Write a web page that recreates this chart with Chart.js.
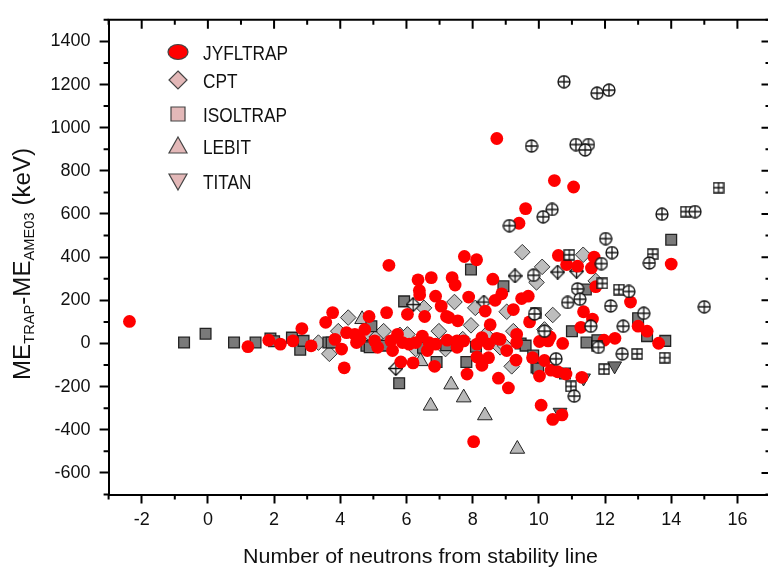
<!DOCTYPE html>
<html>
<head>
<meta charset="utf-8">
<script src="https://cdn.jsdelivr.net/npm/chart.js@4.4.0/dist/chart.umd.min.js"></script>
<style>
  html, body { margin: 0; padding: 0; background: #fff; overflow: hidden; }
  #wrap { width: 768px; height: 570px; overflow: hidden; }
</style>
</head>
<body>
<div id="wrap"><canvas id="c" width="780" height="570"></canvas></div>
<script>
// ME(trap) - ME(AME03) against number of neutrons from the stability line
// every point is [neutrons, keV]

const xTicks = [-2, 0, 2, 4, 6, 8, 10, 12, 14, 16];
const yTicks = [-600, -400, -200, 0, 200, 400, 600, 800, 1000, 1200, 1400];
const legendNames = ['JYFLTRAP', 'CPT', 'ISOLTRAP', 'LEBIT', 'TITAN'];

const jyfltrap = [
  [-2.37, 102], [1.21, -15], [1.84, 15], [2.19, -3], [2.57, 12], [2.84, 69], [3.12, -11], [3.56, 98],
  [3.77, 143], [3.84, 19], [4.04, -26], [4.12, -113], [4.19, 50], [4.44, 42], [4.49, 4], [4.59, 19],
  [4.74, 65], [4.87, 125], [5.04, 12], [5.13, -18], [5.4, 143], [5.47, 362], [5.53, 12], [5.58, -33],
  [5.73, 42], [5.83, -86], [5.88, 4], [6.03, 135], [6.08, -3], [6.2, -90], [6.28, 4], [6.35, 295],
  [6.39, 245], [6.4, 226], [6.48, 34], [6.55, 125], [6.63, -33], [6.68, 4], [6.75, 305], [6.85, -106],
  [6.88, 219], [6.88, -3], [7.05, 173], [7.21, 125], [7.23, 15], [7.28, 120], [7.38, 305], [7.47, 271],
  [7.53, 12], [7.53, -18], [7.55, 105], [7.73, 12], [7.75, 403], [7.83, -142], [7.88, 215], [8.03, -455],
  [8.12, 388], [8.13, -3], [8.13, -63], [8.28, 27], [8.28, -101], [8.38, 150], [8.48, -3], [8.53, 87],
  [8.48, -66], [8.61, 298], [8.68, 200], [8.73, 24], [8.73, 950], [8.78, -161], [8.83, 19], [8.88, 230],
  [9.03, -33], [9.08, -206], [9.23, 157], [9.31, -77], [9.33, 42], [9.33, 4], [9.4, 557], [9.48, 208],
  [9.6, 625], [9.68, 219], [9.72, 100], [9.81, -66], [10.02, 9], [10.02, -151], [10.07, -286], [10.17, -79],
  [10.28, 12], [10.34, 30], [10.37, -124], [10.42, -352], [10.47, 755], [10.57, -131], [10.59, 408], [10.7, -331],
  [10.72, 0], [10.82, -142], [10.84, 366], [11.05, 725], [11.17, 358], [11.27, 75], [11.3, -157], [11.35, 147],
  [11.59, 350], [11.62, 113], [11.67, 400], [11.72, 263], [11.97, 15], [12.3, 24], [12.77, 192], [13.0, 80],
  [13.27, 57], [13.62, 1], [14.0, 368]
];

// open circles with a cross
const jyfltrapOpen = [
  [10.76, 1213], [11.76, 1160], [12.12, 1174], [9.78, 915], [11.12, 922], [11.5, 922], [11.4, 897],
  [10.4, 621], [10.13, 587], [9.11, 546], [13.72, 599], [14.72, 611], [12.02, 486], [12.21, 421],
  [13.34, 373], [9.84, 316], [11.89, 370], [11.17, 253], [11.24, 205], [10.87, 190], [12.17, 174],
  [12.72, 241], [13.17, 140], [12.55, 80], [11.57, 80], [10.52, -71], [12.52, -48], [11.07, -244],
  [15.0, 170], [9.87, 137], [10.17, 57], [11.8, -18]
];

const cpt = [
  [3.34, 4], [3.67, -48], [3.94, 57], [4.24, 120], [4.84, 51], [5.1, 30], [5.31, 57], [5.8, 40],
  [6.03, 42], [6.28, -26], [6.53, 165], [6.98, 57], [7.18, -26], [7.45, 192], [7.53, -3], [7.7, 20],
  [7.95, 84], [8.08, 165], [8.4, 40], [8.83, -18], [8.98, -11], [9.03, 147], [9.18, -106], [9.23, 57],
  [9.5, 423], [9.93, 283], [10.1, 355], [10.17, 65], [10.42, 132], [11.34, 411], [11.72, 290]
];

const cptOpen = [
  [5.68, -116], [6.2, 180], [8.34, 192], [9.28, 313], [10.57, 331], [11.14, 335]
];

const isoltrap = [
  [-0.72, 4], [-0.07, 45], [0.79, 4], [1.44, 4], [1.89, 23], [2.0, 10], [2.54, 27], [2.79, -29],
  [2.89, 12], [3.64, 4], [3.74, 4], [4.79, -11], [4.89, -18], [4.94, 80], [5.3, -10], [5.78, -184],
  [5.93, 195], [6.5, -20], [6.91, -86], [7.2, -8], [7.81, -86], [7.95, 343], [8.1, -15], [8.93, 265],
  [9.45, 0], [9.6, -10], [9.83, -56], [9.93, -111], [9.98, -116], [10.79, -139], [11.0, 57], [11.42, 250],
  [11.44, 4], [11.77, 15], [13.0, 117], [13.27, 34], [13.82, 12], [14.0, 481]
];

// open squares with a cross
const isoltrapOpen = [
  [15.43, 722], [14.44, 611], [10.92, 411], [13.44, 414], [11.92, 278], [12.42, 250], [9.9, 140],
  [11.77, -11], [12.97, -48], [13.8, -66], [11.97, -119], [10.97, -199]
];

const lebit = [
  [4.66, 112], [6.43, -83], [6.73, -289], [7.35, -191], [7.73, -251], [8.37, -334], [9.35, -489]
];

const titan = [
  [12.29, -104], [10.64, -319], [11.35, -160]
];

// small open symbols with a cross, used as point images
function crossed(kind, size) {
  const c = document.createElement('canvas');
  c.width = c.height = size;
  const g = c.getContext('2d');
  const m = size / 2;
  g.lineWidth = 1.3;
  g.strokeStyle = '#111';
  g.fillStyle = '#fff';
  g.beginPath();
  if (kind === 'circle') g.arc(m, m, m - 1, 0, Math.PI * 2);
  else if (kind === 'square') g.rect(1, 1, size - 2, size - 2);
  else { g.moveTo(m, 0.6); g.lineTo(size - 0.6, m); g.lineTo(m, size - 0.6); g.lineTo(0.6, m); g.closePath(); }
  g.fill();
  g.stroke();
  g.beginPath();
  g.moveTo(m, 1); g.lineTo(m, size - 1);
  g.moveTo(1, m); g.lineTo(size - 1, m);
  g.stroke();
  return c;
}

const toXY = arr => arr.map(([x, y]) => ({ x, y }));
const FONT = '"Liberation Sans", Arial, sans-serif';

const frame = {
  id: 'frame',
  afterDraw(chart) {
    const { ctx, chartArea: a, scales: { x, y } } = chart;
    ctx.save();
    ctx.strokeStyle = '#000';
    ctx.lineWidth = 2;
    ctx.beginPath();
    ctx.moveTo(a.left - 1, a.top); ctx.lineTo(a.right, a.top); ctx.lineTo(a.right, a.bottom);
    ctx.stroke();

    // minor ticks outside, all ticks inside on top/right
    ctx.beginPath();
    for (let v = -3; v <= 17; v++) {
      const px = x.getPixelForValue(v);
      const major = v % 2 === 0;
      ctx.moveTo(px, a.top); ctx.lineTo(px, a.top + (major ? 9 : 5));
      if (!major) { ctx.moveTo(px, a.bottom); ctx.lineTo(px, a.bottom + 5); }
    }
    for (let v = -700; v <= 1500; v += 100) {
      const py = y.getPixelForValue(v);
      const major = v % 200 === 0;
      ctx.moveTo(a.right, py); ctx.lineTo(a.right - (major ? 9 : 5), py);
      if (!major) { ctx.moveTo(a.left, py); ctx.lineTo(a.left - 5, py); }
    }
    ctx.stroke();

    // x title, a bit wider than plain Arial in the source
    ctx.fillStyle = '#111';
    ctx.textBaseline = 'alphabetic';
    ctx.textAlign = 'left';
    ctx.font = '20px ' + FONT;
    const xt = 'Number of neutrons from stability line';
    const xw = ctx.measureText(xt).width;
    ctx.save();
    ctx.translate(243, 563);
    ctx.scale(355 / xw, 1);
    ctx.fillText(xt, 0, 0);
    ctx.restore();

    // y title with subscripts
    const parts = [['ME', 0], ['TRAP', 1], ['-ME', 0], ['AME03', 1], [' (keV)', 0]];
    const fontOf = sub => (sub ? '14px ' : '23px ') + FONT;
    let total = 0;
    parts.forEach(([t, sub]) => { ctx.font = fontOf(sub); total += ctx.measureText(t).width; });
    ctx.save();
    ctx.translate(30, 380);
    ctx.rotate(-Math.PI / 2);
    ctx.scale(232 / total, 1);
    let pos = 0;
    parts.forEach(([t, sub]) => {
      ctx.font = fontOf(sub);
      ctx.fillText(t, pos, sub ? 4 : 0);
      pos += ctx.measureText(t).width;
    });
    ctx.restore();

    // legend
    const rows = [52, 80, 114, 146, 181];
    const mx = 178;
    ctx.lineWidth = 1.2;
    ctx.strokeStyle = '#444';
    rows.forEach((cy, i) => {
      ctx.beginPath();
      if (i === 0) {
        ctx.ellipse(mx, cy, 10, 7.5, 0, 0, Math.PI * 2);
        ctx.fillStyle = '#ff0000';
      } else {
        ctx.fillStyle = '#e3b8b8';
        if (i === 1) { ctx.moveTo(mx, cy - 9); ctx.lineTo(mx + 9, cy); ctx.lineTo(mx, cy + 9); ctx.lineTo(mx - 9, cy); }
        if (i === 2) ctx.rect(mx - 7, cy - 7, 14, 14);
        if (i === 3) { ctx.moveTo(mx, cy - 9); ctx.lineTo(mx + 9, cy + 7); ctx.lineTo(mx - 9, cy + 7); }
        if (i === 4) { ctx.moveTo(mx, cy + 9); ctx.lineTo(mx + 9, cy - 7); ctx.lineTo(mx - 9, cy - 7); }
        ctx.closePath();
      }
      ctx.fill();
      ctx.stroke();

      ctx.font = '21px ' + FONT;
      ctx.fillStyle = '#111';
      ctx.textAlign = 'left';
      ctx.textBaseline = 'middle';
      const w = ctx.measureText('JYFLTRAP').width;
      ctx.save();
      ctx.translate(203, cy + 2);
      ctx.scale(85 / w, 1);
      ctx.fillText(legendNames[i], 0, 0);
      ctx.restore();
    });
    ctx.restore();
  }
};

const tickFont = { family: FONT, size: 18 };

new Chart(document.getElementById('c'), {
  type: 'scatter',
  data: {
    datasets: [
      { label: 'JYFLTRAP open', data: toXY(jyfltrapOpen), pointStyle: crossed('circle', 14), pointRadius: 7 },
      { label: 'ISOLTRAP open', data: toXY(isoltrapOpen), pointStyle: crossed('square', 12), pointRadius: 6 },
      { label: 'JYFLTRAP', data: toXY(jyfltrap), pointStyle: 'circle', pointRadius: 6.4,
        backgroundColor: '#ff0000', borderColor: '#ff0000', borderWidth: 0 },
      { label: 'CPT open', data: toXY(cptOpen), pointStyle: crossed('diamond', 15), pointRadius: 7.5 },
      { label: 'ISOLTRAP', data: toXY(isoltrap), pointStyle: 'rect', pointRadius: 7.6,
        backgroundColor: '#7a7a7a', borderColor: '#222', borderWidth: 1.3 },
      { label: 'CPT', data: toXY(cpt), pointStyle: 'rectRot', pointRadius: 7.8,
        backgroundColor: '#bdbdbd', borderColor: '#333', borderWidth: 1 },
      { label: 'LEBIT', data: toXY(lebit), pointStyle: 'triangle', pointRadius: 8.5,
        backgroundColor: '#b8b8b8', borderColor: '#222', borderWidth: 1 },
      { label: 'TITAN', data: toXY(titan), pointStyle: 'triangle', rotation: 180, pointRadius: 8,
        backgroundColor: '#6e6e6e', borderColor: '#222', borderWidth: 1 }
    ]
  },
  options: {
    responsive: false,
    animation: false,
    layout: { padding: { top: 5.5, right: 3.6, left: 0, bottom: 0 } },
    plugins: { legend: { display: false }, tooltip: { enabled: false } },
    scales: {
      x: {
        type: 'linear', min: -3, max: 17,
        afterBuildTicks: s => { s.ticks = xTicks.map(v => ({ value: v })); },
        afterFit: s => { s.height = 75.5; },
        grid: { drawOnChartArea: false, tickLength: 9, tickWidth: 2, tickColor: '#000' },
        border: { color: '#000', width: 2 },
        ticks: { font: tickFont, color: '#111', padding: 6, maxRotation: 0, callback: v => String(v) }
      },
      y: {
        type: 'linear', min: -700, max: 1500,
        afterBuildTicks: s => { s.ticks = yTicks.map(v => ({ value: v })); },
        afterFit: s => { s.width = 108.6; },
        grid: { drawOnChartArea: false, tickLength: 9, tickWidth: 2, tickColor: '#000' },
        border: { color: '#000', width: 2 },
        ticks: { font: tickFont, color: '#111', padding: 9, callback: v => String(v) }
      }
    }
  },
  plugins: [frame]
});
</script>
</body>
</html>
